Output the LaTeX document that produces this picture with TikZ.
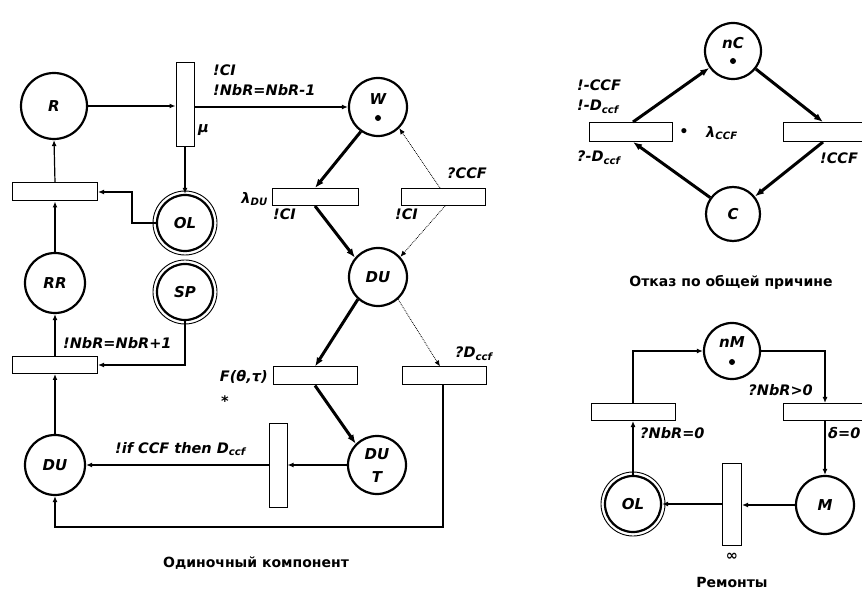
\documentclass[tikz,border=0pt]{standalone}
\usepackage{fontspec}
\setmainfont{DejaVu Sans}
\usetikzlibrary{arrows.meta,calc}
\begin{document}
\begin{tikzpicture}[x=1pt,y=-1pt,
  lbl/.style={font=\bfseries\itshape\fontsize{14.5}{16}\selectfont, inner sep=0pt},
  plbl/.style={font=\bfseries\itshape\fontsize{15}{16}\selectfont, inner sep=0pt},
  captxt/.style={font=\bfseries\fontsize{14}{16}\selectfont, inner sep=0pt},
  place/.style={circle, draw, line width=2.2pt, minimum size=58pt, inner sep=0pt, fill=white,
    font=\bfseries\itshape\fontsize{15}{16}\selectfont},
  htrans/.style={draw, line width=1pt, fill=white, minimum width=85pt, minimum height=18pt, inner sep=0pt},
  vtrans/.style={draw, line width=1pt, fill=white, minimum width=18pt, minimum height=84pt, inner sep=0pt},
  arcn/.style={line width=1.2pt, -{Latex[length=6pt,width=5pt]}},
  thickarc/.style={line width=3pt, -{Latex[length=9pt,width=7pt]}},
  dotarc/.style={line width=0.8pt, densely dotted, -{Latex[length=6pt,width=5pt]}},
  ringc/.style={line width=0.9pt},
  tokenc/.style={fill=black}
]
\useasboundingbox (0,0) rectangle (862,593);

% ---------------- single component ----------------
\node[place, minimum size=66pt] (R) at (54,106) {R};
\node[vtrans] (T1) at (185,105) {};
\node[place] (W) at (378,107) {};
\node[plbl] (Wl) at (378,99) {W};
\node[place, minimum size=56pt] (OL1) at (185,223) {OL};
\draw[ringc] (OL1) circle (32pt);
\node[htrans] (TL1) at (55,192) {};
\node[place, minimum size=60pt] (RR) at (55,283) {RR};
\node[place, minimum size=56pt] (SP) at (185,292) {SP};
\draw[ringc] (SP) circle (32pt);
\node[htrans, minimum height=17pt] (TL2) at (55,365) {};
\node[place, minimum size=60pt] (DU1) at (55,465) {DU};
\node[vtrans] (TV2) at (278,465) {};
\node[htrans, minimum width=86pt, minimum height=17pt] (TDU) at (315,197) {};
\node[htrans, minimum width=84pt, minimum height=17pt] (TCCF) at (443,197) {};
\node[place] (DU) at (378,277) {DU};
\node[htrans, minimum width=84pt] (TF) at (315,376) {};
\node[htrans, minimum width=84pt] (TD) at (444,376) {};
\node[place] (DUT) at (377,465) {};
\node[plbl] (DUTa) at (377,454) {DU};
\node[plbl] (DUTb) at (377,477) {T};
\coordinate (c1) at (443,527);
\coordinate (c2) at (55,527);

\fill[tokenc] ($(W)+(0,11)$) circle (3pt);

% arcs
\draw[arcn] (R.east) -- (R.east -| T1.west);
\draw[arcn] (W.west -| T1.east) -- (W.west);
\draw[arcn] (T1.south) -- (OL1.north);
\draw[arcn] (TL1.north) -- (R.south);
\draw[arcn] (OL1.west) -- ++(-24,0) |- (TL1.east);
\draw[arcn] (RR.north) -- (TL1.south);
\draw[arcn] (TL2.north) -- (RR.south);
\draw[arcn] (DU1.north) -- (TL2.south);
\draw[arcn] (SP.south) |- (TL2.east);
\draw[arcn] (TV2.west) -- (DU1.east);
\draw[arcn] (DUT.west) -- (TV2.east);
\draw[thickarc] (W.235) -- (TDU.north);
\draw[thickarc] (TDU.south) -- (DU.140);
\draw[dotarc] ([xshift=-3pt]TCCF.north) -- (W.-45);
\draw[dotarc] ([xshift=2pt]TCCF.south) -- (DU.42);
\draw[thickarc] (DU.228) -- (TF.north);
\draw[thickarc] (TF.south) -- (DUT.135);
\draw[dotarc] (DU.-48) -- ([xshift=-4pt]TD.north);
\draw[arcn] (TD.south -| c1) -- (c1) -- (c2) -- (DU1.south);

% labels
\node[lbl, anchor=west] (l1) at (213,70) {!CI};
\node[lbl, anchor=west] (l2) at (213,90) {!NbR=NbR-1};
\node[lbl, anchor=west] (l3) at (198,130) {μ};
\node[lbl, anchor=east] (l4) at (268,199) {λ\textsubscript{DU}};
\node[lbl, anchor=west] (l5) at (273,214) {!CI};
\node[lbl, anchor=west] (l6) at (395,214) {!CI};
\node[lbl, anchor=west] (l7) at (447,173) {?CCF};
\node[lbl, anchor=west] (l8) at (63,343) {!NbR=NbR+1};
\node[lbl, anchor=east] (l9) at (268,377) {F(θ,τ)};
\node[lbl] (l10) at (225,401) {*};
\node[lbl, anchor=west] (l11) at (455,354) {?D\textsubscript{ccf}};
\node[lbl, anchor=west] (l12) at (115,449) {!if CCF then D\textsubscript{ccf}};
\node[captxt] (cap1) at (256,563) {Одиночный компонент};

% ---------------- common cause failure ----------------
\node[place, minimum size=56pt] (nC) at (733,51) {};
\node[plbl] (nCl) at (733,43) {nC};
\fill[tokenc] ($(nC)+(0,10)$) circle (3pt);
\node[htrans, minimum width=83pt, minimum height=19pt] (TLc) at (631,132) {};
\node[htrans, minimum width=83pt, minimum height=19pt] (TRc) at (825,132) {};
\node[place, minimum size=54pt] (C) at (733,214) {C};
\draw[thickarc] ([xshift=2pt]TLc.north) -- (nC);
\draw[thickarc] (nC) -- ([xshift=-2pt]TRc.north);
\draw[thickarc] ([xshift=-2pt]TRc.south) -- (C);
\draw[thickarc] (C) -- ([xshift=2pt]TLc.south);
\node[lbl, anchor=west] (r1) at (577,85) {!-CCF};
\node[lbl, anchor=west] (r2) at (577,107) {!-D\textsubscript{ccf}};
\node[lbl, anchor=west] (r3) at (577,158) {?-D\textsubscript{ccf}};
\node[lbl] (r4) at (684,133) {•};
\node[lbl, anchor=west] (r5) at (706,133) {λ\textsubscript{CCF}};
\node[lbl, anchor=west] (r6) at (820,158) {!CCF};
\node[captxt] (cap2) at (731,282) {Отказ по общей причине};

% ---------------- repairs ----------------
\node[place, minimum size=56pt] (nM) at (732,351) {};
\node[plbl] (nMl) at (732,342) {nM};
\fill[tokenc] ($(nM)+(0,11)$) circle (3pt);
\node[htrans, minimum width=84pt, minimum height=17pt] (TLr) at (633,412) {};
\node[htrans, minimum width=84pt, minimum height=17pt] (TRr) at (825,412) {};
\node[place, minimum size=56pt] (OL2) at (633,504) {OL};
\draw[ringc] (OL2) circle (32pt);
\node[place, minimum size=58pt] (M) at (825,505) {M};
\node[vtrans, minimum width=19pt, minimum height=82pt] (TVr) at (732,504) {};
\draw[arcn] (TLr.north) |- (nM.west);
\draw[arcn] (nM.east) -| (TRr.north);
\draw[arcn] (TRr.south) -- (M.north);
\draw[arcn] (M.west) -- (M.west -| TVr.east);
\draw[arcn] (TVr.west) -- (TVr.west -| OL2.east);
\draw[arcn] (OL2.north) -- (TLr.south);
\node[lbl, anchor=east] (s1) at (813,390) {?NbR>0};
\node[lbl, anchor=west] (s2) at (640,433) {?NbR=0};
\node[lbl, anchor=west] (s3) at (828,433) {δ=0};
\node[lbl] (s4) at (732,557) {∞};
\node[captxt] (cap3) at (732,582) {Ремонты};
\end{tikzpicture}
\end{document}
